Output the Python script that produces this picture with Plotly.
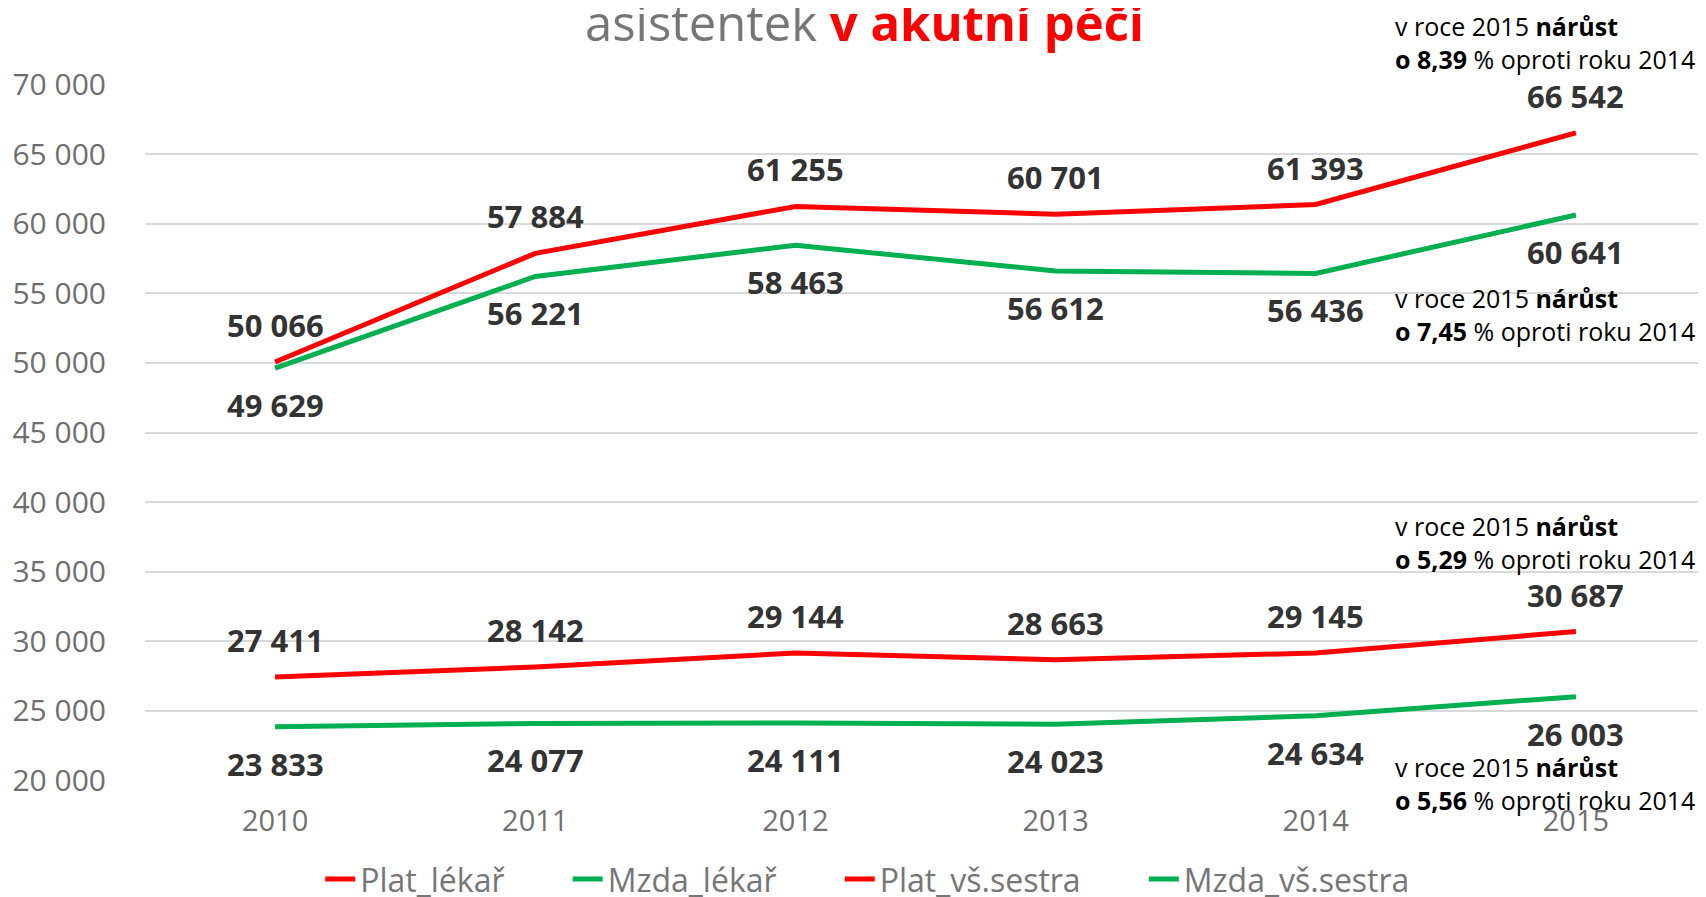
import plotly.graph_objects as go

years = ["2010", "2011", "2012", "2013", "2014", "2015"]
plat_lekar = [50066, 57884, 61255, 60701, 61393, 66542]
mzda_lekar = [49629, 56221, 58463, 56612, 56436, 60641]
plat_sestra = [27411, 28142, 29144, 28663, 29145, 30687]
mzda_sestra = [23833, 24077, 24111, 24023, 24634, 26003]

series_names = ["Plat_lékař", "Mzda_lékař", "Plat_vš.sestra", "Mzda_vš.sestra"]
series_values = [plat_lekar, mzda_lekar, plat_sestra, mzda_sestra]
series_colors = ["#FF0000", "#00B050", "#FF0000", "#00B050"]
label_above = [True, False, True, False]

growth_notes = [
    ("8,39", 1.059),
    ("7,45", 0.669),
    ("5,29", 0.342),
    ("5,56", -0.004),
]

y_ticks = list(range(20000, 70001, 5000))

PAD = "\u00a0" * 7

fig = go.Figure()
for i, (name, vals, col) in enumerate(zip(series_names, series_values, series_colors)):
    legend_name = name + (PAD if i < len(series_names) - 1 else "")
    fig.add_trace(go.Scatter(x=years, y=vals, name=legend_name, mode="lines",
                             line=dict(color=col, width=5)))

annotations = []
for vals, above in zip(series_values, label_above):
    for idx, v in enumerate(vals):
        annotations.append(dict(
            x=idx, y=v, xref="x", yref="y",
            text=f"{v:,}".replace(",", " "),
            showarrow=False, yshift=37 if above else -37,
            yanchor="middle", xanchor="center",
            font=dict(family="Open Sans", size=31, color="#333333", weight="bold"),
        ))

for pct, yy in growth_notes:
    annotations.append(dict(
        x=0.7995, y=yy, xref="paper", yref="paper",
        xanchor="left", yanchor="middle", align="left", showarrow=False,
        text=f"v roce 2015 <b>nárůst</b><br><b>o {pct}</b> % oproti roku 2014",
        font=dict(family="Open Sans", size=25, color="#000000"),
    ))

annotations.append(dict(
    x=0.461, y=1.089, xref="paper", yref="paper",
    xanchor="center", yanchor="middle", showarrow=False,
    text="<span style='color:#767676'>asistentek </span><b><span style='color:#FF0000'>v akutní péči</span></b>",
    font=dict(family="Open Sans", size=49),
))

fig.update_layout(
    width=1698, height=889,
    margin=dict(l=137, r=0, t=76, b=116, autoexpand=False),
    paper_bgcolor="white", plot_bgcolor="white",
    separators=", ",
    showlegend=True,
    legend=dict(orientation="h", xref="paper", yref="paper",
                x=0.463, y=-0.141, xanchor="center", yanchor="middle",
                font=dict(family="Open Sans", size=32, color="#767676"),
                itemwidth=30),
    annotations=annotations,
    xaxis=dict(type="category", range=[-0.5, 5.5], showgrid=False,
               showline=False, zeroline=False, ticks="", automargin=False,
               tickfont=dict(family="Open Sans", size=29, color="#707070"),
               ticklabelstandoff=20),
    yaxis=dict(range=[19940, 70060], tickvals=y_ticks, tickformat=",d",
               showgrid=True, gridcolor="#D9D9D9", gridwidth=2, automargin=False,
               zeroline=False, showline=False, ticks="",
               tickfont=dict(family="Open Sans", size=30, color="#6E6E6E"),
               ticklabelstandoff=38),
)

fig.write_html("out.html")
